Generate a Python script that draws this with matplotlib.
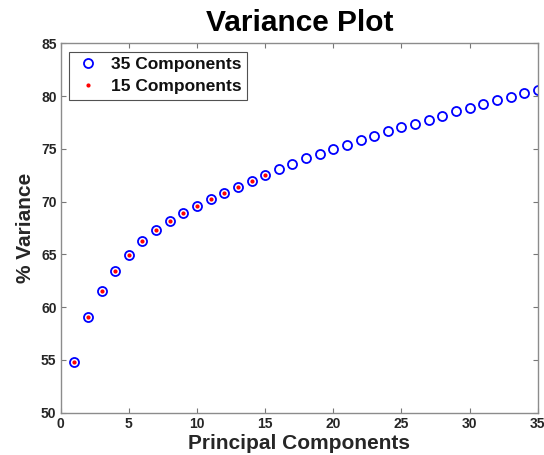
import numpy as np
import matplotlib
matplotlib.use("Agg")
import matplotlib.pyplot as plt

plt.rcParams['font.family'] = ['Liberation Sans', 'DejaVu Sans']

components = np.arange(1, 36)
variance_35 = [54.83, 59.03, 61.52, 63.42, 64.96, 66.26, 67.30, 68.14, 68.94, 69.60,
               70.21, 70.83, 71.40, 71.97, 72.51, 73.05, 73.53, 74.09, 74.50, 74.97,
               75.38, 75.82, 76.23, 76.65, 77.05, 77.40, 77.78, 78.16, 78.54, 78.88,
               79.23, 79.61, 79.92, 80.27, 80.59]
variance_15 = variance_35[:15]
xticks = [0, 5, 10, 15, 20, 25, 30, 35]
yticks = [50, 55, 60, 65, 70, 75, 80, 85]

fig = plt.figure(figsize=(5.44, 4.55), dpi=100)
ax = fig.add_axes([0.1116, 0.093, 0.877, 0.8118])

ax.plot(components, variance_35, 'o', ls='none', mfc='none', mec=(0, 0, 1),
        ms=6.5, mew=1.3, label='35 Components')
ax.plot(components[:15], variance_15, '.', ls='none', color=(1, 0, 0),
        ms=4, label='15 Components')

ax.set_xlim(0, 35)
ax.set_ylim(50, 85)
ax.set_xticks(xticks)
ax.set_yticks(yticks)

gray = '#8c8c8c'
for s in ax.spines.values():
    s.set_color(gray)
    s.set_linewidth(1.0)
ax.tick_params(direction='in', top=True, right=True, length=3.5, width=0.8,
               color='#777777', labelcolor='#262626', labelsize=10, pad=3)
for lab in ax.get_xticklabels() + ax.get_yticklabels():
    lab.set_fontweight('bold')

ax.set_title('Variance Plot', fontsize=21.5, fontweight='bold', color='black', pad=9)
ax.set_xlabel('Principal Components', fontsize=15, fontweight='bold',
              color='#262626', labelpad=2)
ax.set_ylabel('% Variance', fontsize=15, fontweight='bold',
              color='#262626', labelpad=4)

leg = ax.legend(loc='upper left', prop={'weight': 'bold', 'size': 12.5},
                frameon=True, fancybox=False, borderpad=0.3, handletextpad=0.5,
                labelspacing=0.4, borderaxespad=0.5, handlelength=1.6)
leg.get_frame().set_edgecolor('#262626')
leg.get_frame().set_linewidth(0.8)
for t in leg.get_texts():
    t.set_color('#111111')

fig.savefig('out.png', dpi=100)
